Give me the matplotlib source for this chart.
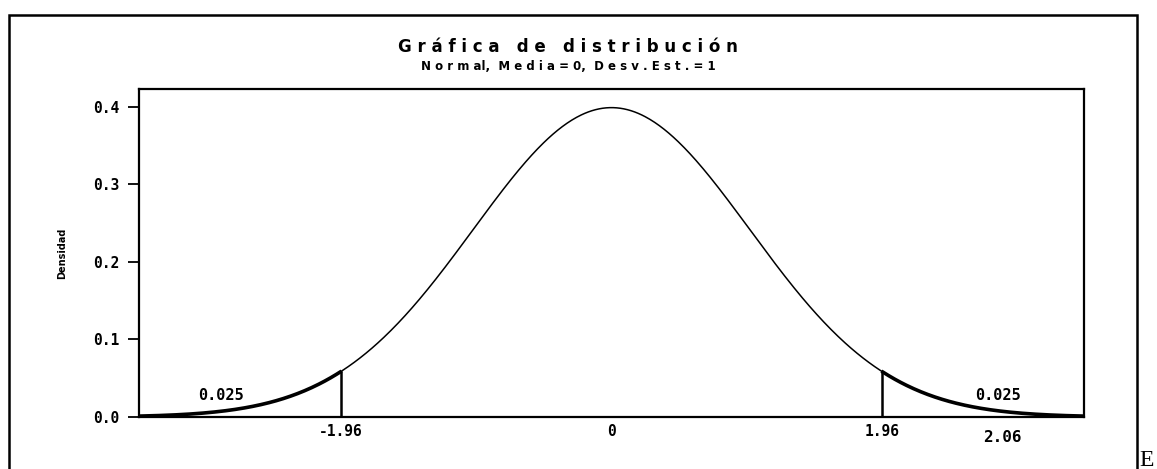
import numpy as np
import matplotlib.pyplot as plt
from matplotlib.patches import Rectangle

# Parámetros de la distribución
media = 0
desv = 1
criticos = [-1.96, 1.96]
areas_cola = [0.025, 0.025]
xticks = [-1.96, 0, 1.96]
xtick_labels = ["-1.96", "0", "1.96"]
yticks = [0.0, 0.1, 0.2, 0.3, 0.4]
yticks_labels = ["0.0", "0.1", "0.2", "0.3", "0.4"]
valor_extra = 2.06

x = np.linspace(-3.42, 3.42, 800)
y = np.exp(-0.5 * ((x - media) / desv) ** 2) / (desv * np.sqrt(2 * np.pi))

fig = plt.figure(figsize=(11.57, 4.69), dpi=100)
ax = fig.add_axes([0.1201, 0.1109, 0.8168, 0.6994])

ax.plot(x, y, color='black', linewidth=1.1)

# colas con trazo más grueso
izq = x <= criticos[0]
der = x >= criticos[1]
ax.plot(x[izq], y[izq], color='black', linewidth=2.6)
ax.plot(x[der], y[der], color='black', linewidth=2.6)

for c in criticos:
    h = np.exp(-0.5 * ((c - media) / desv) ** 2) / (desv * np.sqrt(2 * np.pi))
    ax.plot([c, c], [0, h], color='black', linewidth=1.8)

ax.text(-2.83, 0.018, f"{areas_cola[0]:.3f}", fontsize=11, fontweight='bold',
        family='DejaVu Sans Mono', ha='center', va='bottom')
ax.text(2.80, 0.018, f"{areas_cola[1]:.3f}", fontsize=11, fontweight='bold',
        family='DejaVu Sans Mono', ha='center', va='bottom')

ax.set_xlim(-3.42, 3.42)
ax.set_ylim(0, 0.423)
ax.set_xticks(xticks)
ax.set_xticklabels(xtick_labels, fontsize=10.5, fontweight='bold', family='DejaVu Sans Mono')
ax.set_yticks(yticks)
ax.set_yticklabels(yticks_labels, fontsize=10.5, fontweight='bold', family='DejaVu Sans Mono')
ax.tick_params(axis='x', length=0, pad=5)
ax.tick_params(axis='y', length=8, width=1.3, pad=6)
for s in ax.spines.values():
    s.set_linewidth(1.6)

ax.text(2.83, -0.027, f"{valor_extra:.2f}", fontsize=11.5,
        fontweight='bold', family='DejaVu Sans Mono', ha='center', va='center')

ax.set_ylabel("Densidad", fontsize=7, fontweight='bold', labelpad=19)

fig.text(0.491, 0.90, "G r á f i c a   d e   d i s t r i b u c i ó n",
         fontsize=12, fontweight='heavy', ha='center', va='center')
fig.text(0.491, 0.858, "N o r m al,  M e d i a = 0,  D e s v . E s t . = 1",
         fontsize=8.5, fontweight='bold', ha='center', va='center')

# marco exterior
marco = Rectangle((9 / 1157, -0.05), (1137 - 9) / 1157, 1.05 - 15 / 469,
                  transform=fig.transFigure, fill=False, edgecolor='black',
                  linewidth=1.8, clip_on=False)
fig.patches.append(marco)

fig.text(1139 / 1157, -0.005, "E", fontsize=17, family='Liberation Serif',
         ha='left', va='bottom')

fig.savefig("out.png", dpi=100)
plt.close(fig)
